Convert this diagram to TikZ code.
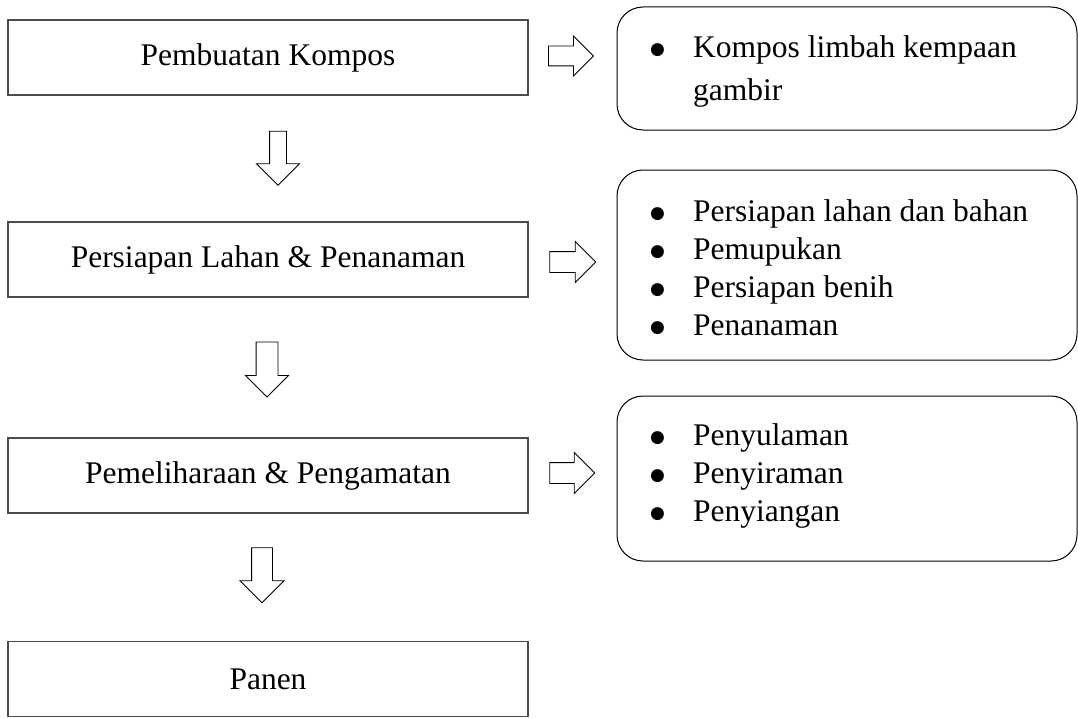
\documentclass[tikz,border=0pt]{standalone}
\usepackage{fontspec}
\setmainfont{Liberation Serif}
\newfontfamily\simbol{DejaVu Sans}
\usetikzlibrary{shapes.arrows,positioning}

\tikzset{
  tahap/.style={draw=black!70, line width=1.2pt, minimum width=520pt, minimum height=75pt, inner sep=0pt},
  kotak/.style={draw, line width=1pt, rounded corners=26pt, minimum width=460pt, inner sep=0pt},
  isi/.style={inner sep=0pt, align=left},
  panah/.style={single arrow, draw, line width=0.9pt, inner sep=0pt, text depth=0pt, single arrow tip angle=90},
}
\newcommand{\butir}[1]{\makebox[43pt][l]{\raisebox{3pt}{\simbol\fontsize{17pt}{17pt}\selectfont ●}}#1}

\begin{document}
\begin{tikzpicture}[x=1pt, y=-1pt, font=\fontsize{31.5pt}{38pt}\selectfont]
    \useasboundingbox (0,0) rectangle (1078,717);

    % Tahapan utama (kiri)
    \node[tahap] (kompos) at (268,57.5) {Pembuatan Kompos};
    \node[tahap] (lahan) at (268,259.5) {Persiapan Lahan \& Penanaman};
    \node[tahap] (pelihara) at (268,475.5) {Pemeliharaan \& Pengamatan};
    \node[tahap] (panen) at (268,679) {Panen};

    % Panah ke bawah
    \node[panah, rotate=-90, minimum height=54pt, text height=16pt, single arrow head extend=13pt] (turun1) at (278,154) {};
    \node[panah, rotate=-90, minimum height=55pt, text height=21pt, single arrow head extend=10.5pt] (turun2) at (267,364) {};
    \node[panah, rotate=-90, minimum height=55pt, text height=20pt, single arrow head extend=11.5pt] (turun3) at (262,570) {};

    % Panah ke kanan
    \node[panah, minimum height=45pt, text height=19pt, single arrow head extend=10pt] (kanan1) at (566,56) {};
    \node[panah, minimum height=46pt, text height=20pt, single arrow head extend=10pt] (kanan2) at (567.5,262) {};
    \node[panah, minimum height=45pt, text height=20pt, single arrow head extend=10pt] (kanan3) at (567,473) {};

    % Kotak keterangan (kanan)
    \node[kotak, minimum height=123pt] (kotakA) at (847,68.5) {};
    \node[kotak, minimum height=190pt] (kotakB) at (847,265) {};
    \node[kotak, minimum height=165pt] (kotakC) at (847,478.5) {};

    % Isi keterangan
    \node[isi, font=\fontsize{31.5pt}{43pt}\selectfont, below right=28.5pt and 33.5pt of kotakA.north west]
        (isiA) {\butir{Kompos limbah kempaan}\\\hspace*{43pt}gambir};
    \node[isi, below right=29.5pt and 33.5pt of kotakB.north west]
        (isiB) {\butir{Persiapan lahan dan bahan}\\\butir{Pemupukan}\\\butir{Persiapan benih}\\\butir{Penanaman}};
    \node[isi, below right=27.5pt and 33.5pt of kotakC.north west]
        (isiC) {\butir{Penyulaman}\\\butir{Penyiraman}\\\butir{Penyiangan}};
\end{tikzpicture}
\end{document}
